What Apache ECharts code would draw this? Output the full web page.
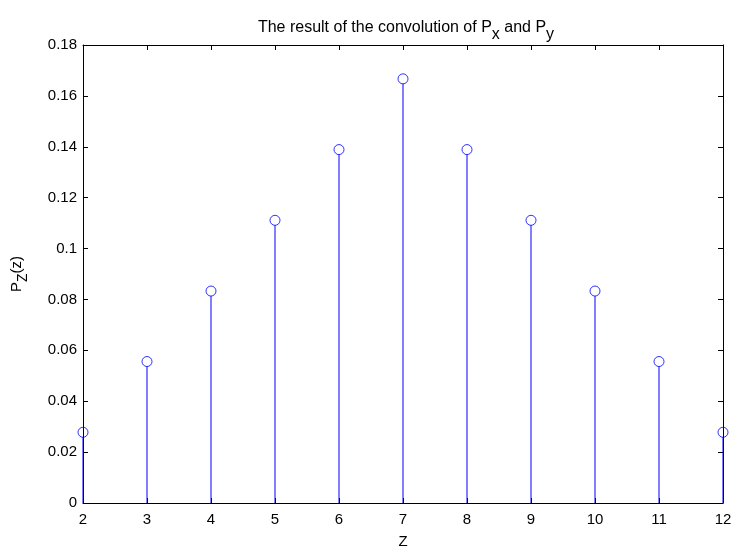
<!DOCTYPE html>
<html>
<head>
<meta charset="utf-8">
<script src="https://cdn.jsdelivr.net/npm/echarts@6/dist/echarts.min.js"></script>
<style>html,body{margin:0;padding:0;background:#fff}#c{width:731px;height:546px}</style>
</head>
<body>
<div id="c"></div>
<script>
const zValues = [2, 3, 4, 5, 6, 7, 8, 9, 10, 11, 12];
const pValues = [0.0278, 0.0556, 0.0833, 0.1111, 0.1389, 0.1667, 0.1389, 0.1111, 0.0833, 0.0556, 0.0278];
const yTicks = [0, 0.02, 0.04, 0.06, 0.08, 0.1, 0.12, 0.14, 0.16, 0.18];

const data = zValues.map((z, i) => [z, pValues[i]]);
const font = 'Liberation Sans, Arial, sans-serif';
const chart = echarts.init(document.getElementById('c'));
const axisCommon = {
  axisLine: {show: true, onZero: false, lineStyle: {color: '#000', width: 1}},
  axisTick: {show: true, inside: true, length: 5, lineStyle: {color: '#000'}},
  splitLine: {show: false}
};
chart.setOption({
  animation: false,
  backgroundColor: '#fff',
  title: {
    text: 'The result of the convolution of P{s|x} and P{s|y}',
    left: 401, top: 8, textAlign: 'center',
    textStyle: {
      fontFamily: font, fontSize: 16, fontWeight: 'normal', color: '#000',
      rich: {s: {fontFamily: font, fontSize: 16, color: '#000', padding: [14, 0, 0, 0]}}
    }
  },
  grid: {left: 83, right: 8, top: 45, bottom: 43, containLabel: false, outerBoundsMode: 'none'},
  xAxis: [
    Object.assign({type: 'value', min: 2, max: 12, interval: 1, position: 'bottom',
      name: 'Z', nameLocation: 'middle', nameGap: 31,
      nameTextStyle: {fontFamily: font, fontSize: 15, color: '#000'},
      axisLabel: {fontFamily: font, fontSize: 15, color: '#000', margin: 9}}, axisCommon),
    Object.assign({type: 'value', min: 2, max: 12, interval: 1, position: 'top',
      axisLabel: {show: false}}, axisCommon)
  ],
  yAxis: [
    Object.assign({type: 'value', min: 0, max: 0.18, interval: 0.02, position: 'left',
      name: 'P{s|Z}(z)', nameLocation: 'middle', nameGap: 53,
      nameTextStyle: {fontFamily: font, fontSize: 15, color: '#000',
        rich: {s: {fontFamily: font, fontSize: 14, color: '#000', padding: [12, 0, 0, 0]}}},
      axisLabel: {fontFamily: font, fontSize: 15, color: '#000', margin: 6,
        formatter: v => { const t = yTicks.find(x => Math.abs(x - v) < 1e-9); return t === undefined ? '' : String(t); }}}, axisCommon),
    Object.assign({type: 'value', min: 0, max: 0.18, interval: 0.02, position: 'right',
      axisLabel: {show: false}}, axisCommon)
  ],
  series: [
    {
      type: 'custom',
      clip: false,
      data: data,
      renderItem: function (params, api) {
        const p0 = api.coord([api.value(0), 0]);
        const p1 = api.coord([api.value(0), api.value(1)]);
        return {
          type: 'line',
          shape: {x1: p0[0], y1: p0[1], x2: p1[0], y2: p1[1] + 5},
          style: {stroke: '#0000ff', lineWidth: 1}
        };
      },
      z: 2
    },
    {
      type: 'scatter',
      clip: false,
      data: data,
      symbol: 'circle',
      symbolSize: 10,
      itemStyle: {color: 'rgba(0,0,0,0)', borderColor: '#0000ff', borderWidth: 1},
      z: 3
    }
  ]
});
</script>
</body>
</html>
